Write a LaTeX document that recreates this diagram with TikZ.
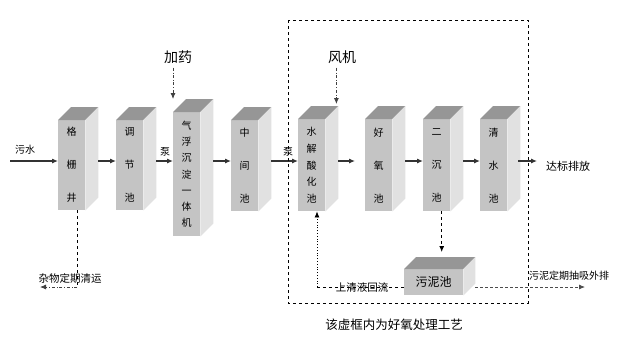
\documentclass[tikz,border=0pt]{standalone}
\usepackage{fontspec}
\usetikzlibrary{arrows.meta}
\newfontfamily\cjk{Noto Sans CJK SC}
\definecolor{frontgray}{HTML}{C4C4C4}
\definecolor{topgray}{HTML}{969696}
\definecolor{sidegray}{HTML}{E1E1E1}
\tikzset{
  tank/.style={fill=frontgray, inner sep=0pt, anchor=north west, align=center, minimum width=27pt},
  tip/.style={-{Latex[length=6pt,width=5pt]}},
  flow/.style={tip, line width=1.1pt, draw=black!80},
  dose/.style={tip, dash dot, line width=0.8pt, draw=black!75},
  lbl/.style={font=\cjk\fontsize{10}{12}\selectfont, inner sep=0pt},
}
% top and side faces of a tank, #1 = depth
\newcommand{\tankfaces}[2][13]{%
  \fill[topgray] (#2.north west) -- ([shift={(#1,-#1)}]#2.north west) -- ([shift={(#1,-#1)}]#2.north east) -- (#2.north east) -- cycle;
  \fill[sidegray] (#2.north east) -- ([shift={(#1,-#1)}]#2.north east) -- ([shift={(#1,-#1)}]#2.south east) -- (#2.south east) -- cycle;}
\begin{document}
\begin{tikzpicture}[x=1pt,y=-1pt]
  \useasboundingbox (0,0) rectangle (617,340);
  % tanks
  \node[tank, minimum height=90pt, font=\cjk\fontsize{10}{33}\selectfont] (gs) at (58,120) {格\\栅\\井};
  \node[tank, minimum height=90pt, font=\cjk\fontsize{10}{33}\selectfont] (tj) at (116,120) {调\\节\\池};
  \node[tank, minimum height=124pt, font=\cjk\fontsize{10}{16.3}\selectfont] (qf) at (173,112) {气\\浮\\沉\\淀\\一\\体\\机};
  \node[tank, minimum height=91pt, font=\cjk\fontsize{10}{33}\selectfont] (zj) at (231,120) {中\\间\\池};
  \node[tank, minimum height=92pt, font=\cjk\fontsize{10}{16.7}\selectfont] (sj) at (298,119) {水\\解\\酸\\化\\池};
  \node[tank, minimum height=92pt, font=\cjk\fontsize{10}{33}\selectfont] (hy) at (365,119) {好\\氧\\池};
  \node[tank, minimum height=92pt, font=\cjk\fontsize{10}{33}\selectfont] (ec) at (423,119) {二\\沉\\池};
  \node[tank, minimum height=92pt, font=\cjk\fontsize{10}{33}\selectfont] (qs) at (480,119) {清\\水\\池};
  \node[tank, minimum width=59pt, minimum height=26pt, font=\cjk\fontsize{12}{14}\selectfont] (wn) at (404,269) {污泥池};
  \tankfaces{gs} \tankfaces{tj} \tankfaces{qf} \tankfaces{zj}
  \tankfaces{sj} \tankfaces{hy} \tankfaces{ec} \tankfaces{qs}
  \tankfaces[12]{wn}
  % labels
  \node[lbl] (wushui) at (25,150) {污水};
  \node[lbl] (beng1) at (165,152) {泵};
  \node[lbl] (beng2) at (288,152) {泵};
  \node[lbl, font=\cjk\fontsize{14}{16}\selectfont] (jiayao) at (178,57) {加药};
  \node[lbl, font=\cjk\fontsize{14}{16}\selectfont] (fengji) at (342,57) {风机};
  \node[lbl, font=\cjk\fontsize{11}{13}\selectfont] (dabiao) at (568,166) {达标排放};
  \node[lbl, font=\cjk\fontsize{10.5}{12}\selectfont] (zawu) at (70,278) {杂物定期清运};
  \node[lbl, font=\cjk\fontsize{10.5}{12}\selectfont] (huiliu) at (362,287) {上清液回流};
  \node[lbl] (waipai) at (569,276) {污泥定期抽吸外排};
  \node[lbl, font=\cjk\fontsize{12.5}{14}\selectfont] (note) at (394,325) {该虚框内为好氧处理工艺};
  % main line
  \coordinate (inlet) at (10,161);
  \coordinate (outlet) at (537,161);
  \draw[flow] (inlet) -- (gs.west |- inlet);
  \draw[flow] (gs.east |- inlet) ++(13,0) -- (tj.west |- inlet);
  \draw[flow] (tj.east |- inlet) ++(13,0) -- (qf.west |- inlet);
  \draw[flow] (qf.east |- inlet) ++(13,0) -- (zj.west |- inlet);
  \draw[flow] (zj.east |- inlet) ++(13,0) -- (sj.west |- inlet);
  \draw[flow, shorten >=10pt] (sj.east |- inlet) ++(13,0) -- (hy.west |- inlet);
  \draw[flow] (hy.east |- inlet) ++(13,0) -- (ec.west |- inlet);
  \draw[flow] (ec.east |- inlet) ++(13,0) -- (qs.west |- inlet);
  \draw[flow] (qs.east |- inlet) ++(11,0) -- (outlet);
  % dosing and air
  \coordinate (qftop) at ([yshift=13pt]qf.north west);
  \coordinate (fjin) at ([xshift=11pt,yshift=15pt]sj.north east);
  \draw[dose] (jiayao.south -| qftop) ++(0,4) -- (qftop);
  \draw[dose] (fengji.south -| fjin) ++(0,4) -- (fjin);
  % screenings
  \coordinate (zw) at (77,287);
  \coordinate (zwend) at (40,287);
  \draw[dashed, line width=0.8pt] (gs.south -| zw) -- (zw);
  \draw[dose] (zw) -- (zwend);
  % sludge
  \coordinate (ecout) at ([xshift=5pt]ec.south);
  \coordinate (wntop) at ([yshift=17pt]wn.north);
  \draw[tip, dashed, line width=0.8pt] (ecout) -- (ecout |- wntop);
  \coordinate (hl) at (317,287);
  \coordinate (wnend) at (585,287);
  \draw[dashed, line width=0.7pt] (wn.west |- hl) -- (hl);
  \draw[tip, dotted, line width=0.8pt] (hl) -- (hl |- sj.south);
  \draw[tip, densely dashed, line width=0.8pt, draw=black!70] (wn.east |- hl) ++(12,0) -- (wnend);
  % aerobic section frame
  \draw[dashed, line width=0.8pt] (288,20) rectangle (528,303);
\end{tikzpicture}
\end{document}
